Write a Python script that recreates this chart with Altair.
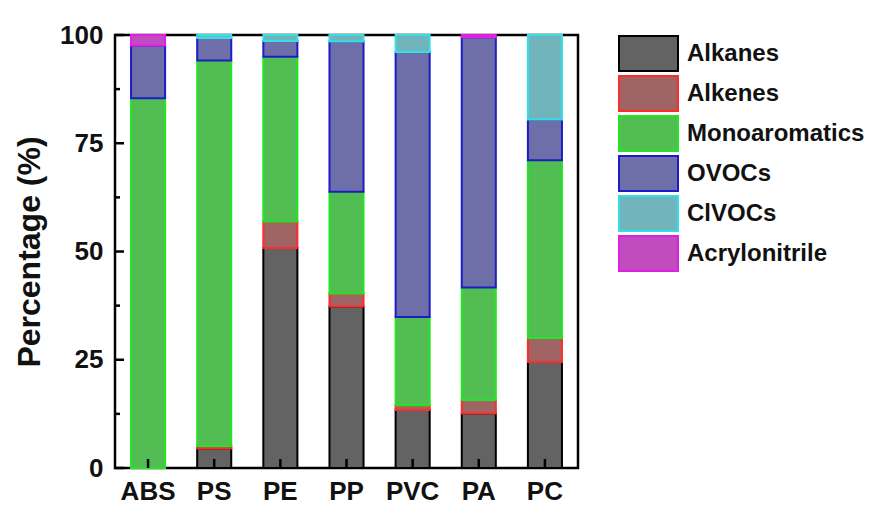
import altair as alt
import pandas as pd

plastics = ["ABS", "PS", "PE", "PP", "PVC", "PA", "PC"]
categories = ["Alkanes", "Alkenes", "Monoaromatics", "OVOCs", "ClVOCs", "Acrylonitrile"]

alkanes = [0.0, 4.5, 50.8, 37.3, 13.4, 12.6, 24.5]
alkenes = [0.0, 0.6, 6.1, 3.0, 1.1, 3.1, 5.5]
monoaromatics = [85.4, 89.0, 38.1, 23.5, 20.4, 26.0, 41.1]
ovocs = [12.2, 5.2, 3.6, 34.7, 61.2, 57.8, 9.4]
clvocs = [0.0, 0.7, 1.4, 1.5, 3.9, 0.0, 19.5]
acrylonitrile = [2.4, 0.0, 0.0, 0.0, 0.0, 0.5, 0.0]

fill_colors = ["#636363", "#a06464", "#52bd52", "#6e6ea8", "#72b4bc", "#c04cc0"]
stroke_colors = ["#000000", "#ff2a2a", "#22e622", "#1c1cc8", "#33e0e8", "#e020e0"]

y_major = [0, 25, 50, 75, 100]
y_minor = [12.5, 37.5, 62.5, 87.5]

series = [alkanes, alkenes, monoaromatics, ovocs, clvocs, acrylonitrile]
rows = []
for ci, (cat, vals) in enumerate(zip(categories, series)):
    for p, v in zip(plastics, vals):
        if v > 0:
            rows.append({"Plastic": p, "Category": cat, "Value": v, "order": ci})
df = pd.DataFrame(rows)

W, H = 463, 433
FONT = "Liberation Sans"

xscale = alt.Scale(domain=plastics, paddingInner=0.485, paddingOuter=0.2425)
yscale = alt.Scale(domain=[0, 100], nice=False, zero=True)

xaxis = alt.Axis(title=None, ticks=False, domain=False, labelAngle=0, grid=False,
                 labelFont=FONT, labelFontSize=26, labelFontWeight="bold",
                 labelColor="#111111", labelPadding=10)
yaxis = alt.Axis(title="Percentage (%)", values=y_major, ticks=False, domain=False,
                 grid=False, labelFont=FONT, labelFontSize=26, labelFontWeight="bold",
                 labelColor="#111111", labelPadding=12,
                 titleFont=FONT, titleFontSize=32, titleFontWeight="bold",
                 titleColor="#111111", titlePadding=13)

legend = alt.Legend(
    title=None,
    symbolType="M-1,-1L2.371,-1L2.371,1L-1,1Z",
    symbolSize=1225,
    symbolStrokeWidth=2,
    labelFont=FONT,
    labelFontSize=24,
    labelFontWeight="bold",
    labelColor="#111111",
    labelOffset=32,
    labelLimit=0,
    rowPadding=-5,
    offset=40,
    padding=0,
)

bars = alt.Chart(df).mark_bar(strokeWidth=2).encode(
    x=alt.X("Plastic:N", scale=xscale, sort=plastics, axis=xaxis),
    y=alt.Y("Value:Q", stack="zero", scale=yscale, axis=yaxis),
    fill=alt.Fill("Category:N", scale=alt.Scale(domain=categories, range=fill_colors),
                  sort=categories, legend=legend),
    stroke=alt.Stroke("Category:N", scale=alt.Scale(domain=categories, range=stroke_colors),
                      sort=categories, legend=legend),
    order=alt.Order("order:Q", sort="ascending"),
)

ymaj = alt.Chart(pd.DataFrame({"Value": y_major})).mark_rule(color="black", strokeWidth=2.5).encode(
    y=alt.Y("Value:Q", scale=yscale, axis=yaxis),
    x=alt.value(0), x2=alt.value(9),
)
ymin = alt.Chart(pd.DataFrame({"Value": y_minor})).mark_rule(color="black", strokeWidth=2.5).encode(
    y=alt.Y("Value:Q", scale=yscale, axis=yaxis),
    x=alt.value(0), x2=alt.value(5),
)
xt = alt.Chart(pd.DataFrame({"Plastic": plastics})).mark_rule(color="black", strokeWidth=2.5).encode(
    x=alt.X("Plastic:N", scale=xscale, sort=plastics, axis=xaxis),
    y=alt.value(H), y2=alt.value(H - 9),
)

chart = alt.layer(bars, ymaj, ymin, xt).properties(
    width=W, height=H,
    background="white",
    padding={"left": 5, "top": 14, "right": 0, "bottom": 0},
).configure_view(stroke="black", strokeWidth=2.5)

chart.save("out.html", embed_options={"renderer": "svg", "actions": False})
